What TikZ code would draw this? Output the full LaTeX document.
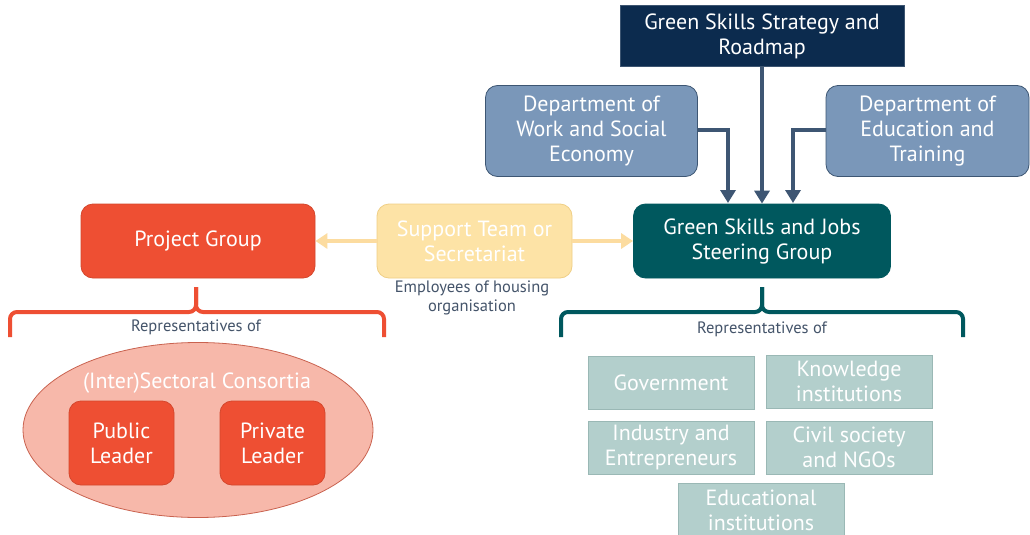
\documentclass[tikz,border=0pt]{standalone}
\usepackage{fontspec}
\setmainfont{PT Sans}
\usetikzlibrary{arrows.meta,shapes.geometric}
\definecolor{navy}{HTML}{0C2B4E}
\definecolor{deptfill}{HTML}{7A97B9}
\definecolor{deptline}{HTML}{3D5673}
\definecolor{teal}{HTML}{00585E}
\definecolor{suppfill}{HTML}{FDE3A6}
\definecolor{suppline}{HTML}{EFCF86}
\definecolor{supparrow}{HTML}{FCDCA0}
\definecolor{orng}{HTML}{EE4F33}
\definecolor{orngline}{HTML}{D4472D}
\definecolor{ellfill}{HTML}{F7B8AA}
\definecolor{ellline}{HTML}{C9624F}
\definecolor{grayfill}{HTML}{B3CFCC}
\definecolor{grayline}{HTML}{9AB8B5}
\definecolor{reptext}{HTML}{44546A}
\definecolor{arrowc}{HTML}{3E5673}
\tikzset{
  box/.style={draw, line width=0.8pt, text=white, align=center, inner sep=0pt,
    font=\fontsize{22}{25}\selectfont},
  rbox/.style={box, rounded corners=12pt},
  repr/.style={text=reptext, align=center, font=\fontsize{16.5}{18.5}\selectfont},
  darrow/.style={draw=arrowc, line width=4pt, -{Triangle[width=15pt,length=13pt]}},
  yarrow/.style={draw=supparrow, line width=4pt, -{Triangle[width=15pt,length=12pt]}},
  bracestyle/.style={line width=4pt, rounded corners=7pt},
}
\begin{document}
\begin{tikzpicture}[x=1pt,y=-1pt]
\clip (0,0) rectangle (1030,535);
\fill[white] (0,0) rectangle (1030,535);

% top-level boxes
\node[box, fill=navy, draw=navy!80!white, minimum width=284pt, minimum height=61pt] (strat) at (762,36) {Green Skills Strategy and\\Roadmap};
\node[rbox, fill=deptfill, draw=deptline, minimum width=212pt, minimum height=91pt] (work) at (591.5,131) {Department of\\Work and Social\\Economy};
\node[rbox, fill=deptfill, draw=deptline, minimum width=203pt, minimum height=91pt] (edu) at (927.5,131) {Department of\\Education and\\Training};

\node[rbox, fill=teal, draw=teal, minimum width=257pt, minimum height=74pt] (steer) at (762,241) {Green Skills and Jobs\\Steering Group};
\node[rbox, fill=suppfill, draw=suppline, minimum width=195pt, minimum height=74pt] (supp) at (474.5,241) {Support Team or\\Secretariat};
\node[rbox, fill=orng, draw=orngline, minimum width=234pt, minimum height=74pt] (proj) at (198,241) {Project Group};

\node[repr] (empl) at (472,298) {Employees of housing\\organisation};

% arrows into steering group
\coordinate (wt) at (728,203);
\coordinate (et) at (793,203);
\draw[darrow] (work.east |- 0,130) -| (wt);
\draw[darrow] (edu.west |- 0,130) -| (et);
\draw[darrow] (strat.south) -- (steer.north);

% support arrows
\draw[yarrow] (supp.west) -- (proj.east);
\draw[yarrow] (supp.east) -- (steer.west);

% braces
\coordinate (pl) at (10,337);
\coordinate (pr) at (384,337);
\coordinate (pm) at (196,312);
\draw[bracestyle, draw=orng] (pl) -- (10,312) -- (pm) -- (196,287);
\draw[bracestyle, draw=orng] (pr) -- (384,312) -- (pm) -- (196,287);
\node[repr] (rep1) at (196,327) {Representatives of};

\coordinate (sl) at (561,337);
\coordinate (sr) at (963,337);
\coordinate (sm) at (762,312);
\draw[bracestyle, draw=teal] (sl) -- (561,312) -- (sm) -- (762,287);
\draw[bracestyle, draw=teal] (sr) -- (963,312) -- (sm) -- (762,287);
\node[repr] (rep2) at (762,329) {Representatives of};

% consortia ellipse
\node[draw=ellline, fill=ellfill, line width=0.8pt, ellipse, minimum width=350pt, minimum height=175pt, inner sep=0pt] (cons) at (198,430) {};
\node[text=white, font=\fontsize{22}{25}\selectfont] (constext) at (197,383) {(Inter)Sectoral Consortia};
\node[rbox, fill=orng, draw=orngline, minimum width=105pt, minimum height=84pt] (pub) at (121.5,443) {Public\\Leader};
\node[rbox, fill=orng, draw=orngline, minimum width=105pt, minimum height=84pt] (priv) at (272.5,443) {Private\\Leader};

% representative groups
\tikzset{gbox/.style={box, fill=grayfill, draw=grayline, minimum width=166pt, minimum height=53pt}}
\node[gbox] (gov) at (671,382.5) {Government};
\node[gbox] (know) at (849,381.5) {Knowledge\\institutions};
\node[gbox] (ind) at (671,447.5) {Industry and\\Entrepreneurs};
\node[gbox] (civ) at (849,447.5) {Civil society\\and NGOs};
\node[gbox] (educ) at (761,510) {Educational\\institutions};
\end{tikzpicture}
\end{document}
